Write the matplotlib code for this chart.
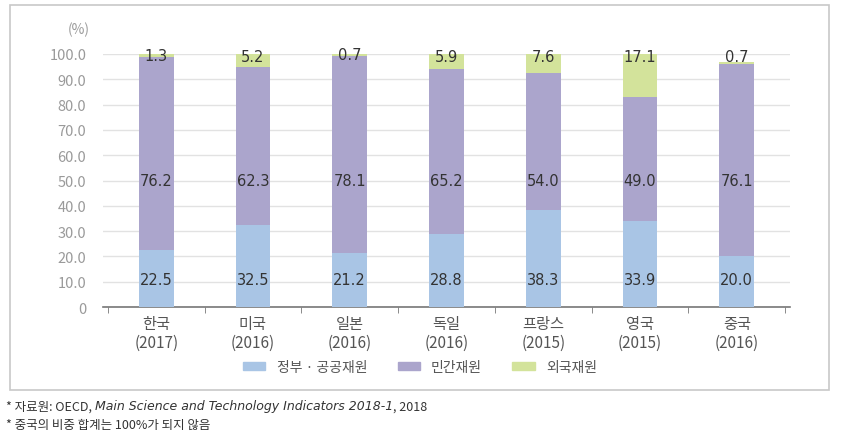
import matplotlib
matplotlib.use("Agg")
import matplotlib.pyplot as plt
from matplotlib.patches import Rectangle, Patch
import numpy as np

plt.rcParams['font.family'] = ['Noto Sans CJK KR', 'DejaVu Sans']

countries = ['한국', '미국', '일본', '독일', '프랑스', '영국', '중국']
years = ['2017', '2016', '2016', '2016', '2015', '2015', '2016']
gov = [22.5, 32.5, 21.2, 28.8, 38.3, 33.9, 20.0]
private = [76.2, 62.3, 78.1, 65.2, 54.0, 49.0, 76.1]
foreign = [1.3, 5.2, 0.7, 5.9, 7.6, 17.1, 0.7]
series_names = ['정부 · 공공재원', '민간재원', '외국재원']
yticks = [0, 10, 20, 30, 40, 50, 60, 70, 80, 90, 100]

c_gov = '#a9c5e5'
c_priv = '#aba5cc'
c_for = '#d3e39b'

fig = plt.figure(figsize=(8.42, 4.35), dpi=100)
fig.patches.append(Rectangle((10 / 842, 1 - 391 / 435), 819 / 842, 385 / 435,
                             transform=fig.transFigure, fill=False,
                             edgecolor='#c8c8c8', linewidth=1.2))

ax = fig.add_axes([103 / 842, 1 - 308 / 435, 687 / 842, 253 / 435])
x = np.arange(len(countries))
w = 0.36
gov = np.array(gov)
private = np.array(private)
foreign = np.array(foreign)

ax.bar(x, gov, w, color=c_gov, zorder=3)
ax.bar(x, private, w, bottom=gov, color=c_priv, zorder=3)
ax.bar(x, foreign, w, bottom=gov + private, color=c_for, zorder=3)

lab = dict(ha='center', va='center', fontsize=10.5, color='#333333',
           family='DejaVu Sans', zorder=4)
for i in range(len(x)):
    ax.text(x[i], 11, f'{gov[i]:.1f}', **lab)
    ax.text(x[i], 50, f'{private[i]:.1f}', **lab)
    top_mid = gov[i] + private[i] + foreign[i] / 2
    ax.text(x[i], max(top_mid, 99.2), f'{foreign[i]:.1f}', **lab)

ax.set_xlim(-0.55, len(x) - 0.45)
ax.set_ylim(0, 100)
ax.set_yticks(yticks)
ax.set_yticklabels(['0'] + [f'{v:.1f}' for v in yticks[1:]])
ax.tick_params(axis='y', length=0, pad=12, labelsize=10.5, labelcolor='#9a9a9a')
ax.grid(axis='y', color='#e2e2e2', linewidth=1, zorder=0)
ax.set_xticks(x)
ax.set_xticklabels([f'{c}\n({y})' for c, y in zip(countries, years)],
                   fontsize=11, color='#555555', linespacing=1.1)
ax.tick_params(axis='x', length=0, pad=6)
# small ticks at category boundaries
ax.set_xticks(np.arange(-0.5, len(x)), minor=True)
ax.tick_params(axis='x', which='minor', length=4, color='#777777', direction='out')
for s in ['top', 'right', 'left']:
    ax.spines[s].set_visible(False)
ax.spines['bottom'].set_color('#777777')
ax.spines['bottom'].set_linewidth(1.2)

fig.text(90 / 842, 1 - 30 / 435, '(%)', ha='right', va='center', fontsize=10,
         color='#9a9a9a')

handles = [Patch(color=c) for c in (c_gov, c_priv, c_for)]
fig.legend(handles, series_names, loc='center', bbox_to_anchor=(420 / 842, 1 - 368 / 435),
           ncol=3, frameon=False, fontsize=10, handlelength=1.6, handleheight=0.5,
           columnspacing=2.2, handletextpad=0.8, labelcolor='#555555')

# footnotes
fig.canvas.draw()
r = fig.canvas.get_renderer()
fy = 1 - 407 / 435
t1 = fig.text(6 / 842, fy, '* 자료원: OECD, ', fontsize=9, color='#333333', va='center')
x1 = t1.get_window_extent(r).x1
t2 = fig.text(x1 / 842, fy, 'Main Science and Technology Indicators 2018-1',
              fontsize=9, color='#333333', va='center', style='italic',
              family='DejaVu Sans')
x2 = t2.get_window_extent(r).x1
fig.text(x2 / 842, fy, ', 2018', fontsize=9, color='#333333', va='center')
fig.text(6 / 842, 1 - 425 / 435, '* 중국의 비중 합계는 100%가 되지 않음', fontsize=9,
         color='#333333', va='center')

fig.savefig('out.png', dpi=100)
